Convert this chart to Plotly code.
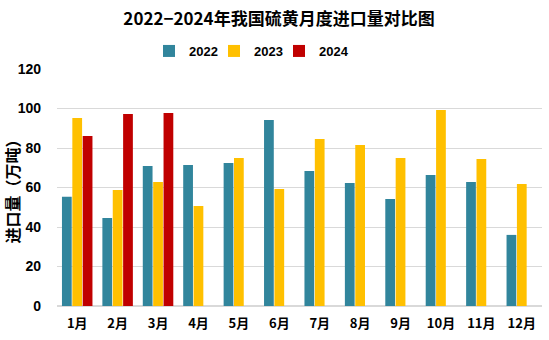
import plotly.graph_objects as go

months = ["1月", "2月", "3月", "4月", "5月", "6月", "7月", "8月", "9月", "10月", "11月", "12月"]
v2022 = [55.3, 44.6, 70.9, 71.4, 72.4, 94.2, 68.4, 62.3, 54.2, 66.3, 62.8, 36.0]
v2023 = [95.2, 58.7, 62.8, 50.6, 74.9, 59.2, 84.6, 81.5, 74.9, 99.2, 74.4, 61.8]
v2024 = [86.1, 97.2, 97.7, None, None, None, None, None, None, None, None, None]

title_text = "2022−2024年我国硫黄月度进口量对比图"
ytitle = "进口量（万吨）"

cjk = "Noto Sans CJK SC"
lat = "Liberation Sans"

fig = go.Figure()
for name, vals, col in [("2022", v2022, "#31859C"), ("2023", v2023, "#FFC000"), ("2024", v2024, "#C00000")]:
    fig.add_trace(go.Bar(x=months, y=vals, name="<b>" + name + "</b>", marker=dict(color=col, line=dict(width=0))))
# invisible spacer legend entry so the last legend label is not clipped
fig.add_trace(go.Scatter(x=[None], y=[None], mode="markers", name=" ",
                         marker=dict(color="rgba(0,0,0,0)", size=1, line=dict(width=0, color="rgba(0,0,0,0)")),
                         hoverinfo="skip", showlegend=True))

fig.update_layout(
    width=549, height=340,
    margin=dict(l=57, r=7, t=69, b=34, autoexpand=False),
    paper_bgcolor="white", plot_bgcolor="white",
    barmode="group", bargap=0.23, bargroupgap=0.06,
    title=dict(text="<b>" + title_text + "</b>", x=279/549, xanchor="center", y=1-19/340, yanchor="middle",
               font=dict(family=cjk, size=17, color="#000000")),
    legend=dict(orientation="h", xref="container", yref="container", x=149/549, xanchor="left",
                y=1-51/340, yanchor="middle", font=dict(family=lat, size=13, color="#000000"),
                itemwidth=30, entrywidth=20, traceorder="normal"),
    font=dict(family=lat, color="#000000"),
    showlegend=True,
)
fig.update_xaxes(showgrid=False, showline=False, ticks="", ticklabelstandoff=8,
                 tickfont=dict(family=cjk, size=13, color="#000000"),
                 tickprefix="<b>", ticksuffix="</b>")
fig.update_yaxes(range=[0, 120], dtick=20, showgrid=True, gridcolor="#D9D9D9", gridwidth=1,
                 zeroline=True, zerolinecolor="#D9D9D9", zerolinewidth=1.5, showline=False, ticks="",
                 tickfont=dict(family=lat, size=14, color="#000000"),
                 tickprefix="<b>", ticksuffix="</b>", ticklabelstandoff=15,
                 title=dict(text="<b>" + ytitle + "</b>", font=dict(family=cjk, size=16, color="#000000"), standoff=2))

fig.write_html("out.html")
